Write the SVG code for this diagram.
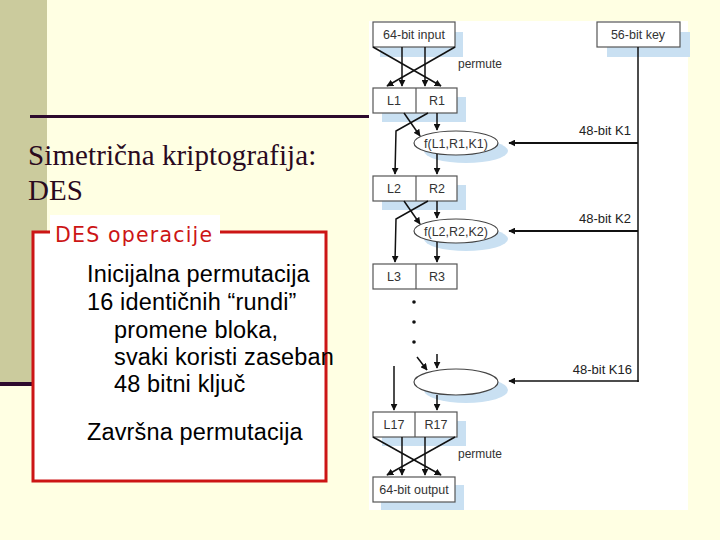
<svg xmlns="http://www.w3.org/2000/svg" width="720" height="540" viewBox="0 0 720 540">
<style>
.box{fill:#fff;stroke:#555;stroke-width:1.2}
.sh{fill:#c9e0f2}
.lbl{font-family:"Liberation Sans",Arial,sans-serif;font-size:12.5px;fill:#333;text-anchor:middle}
.klbl{font-family:"Liberation Sans",Arial,sans-serif;font-size:13px;fill:#222;text-anchor:end}
.ln{stroke:#111;stroke-width:1.5;fill:none}
.ar{stroke:#111;stroke-width:1.5;fill:none;marker-end:url(#ah)}
.arb{stroke:#111;stroke-width:2.2;fill:none;marker-end:url(#ah)}
.body{font-family:"Liberation Sans",Arial,sans-serif;font-size:23.5px;letter-spacing:0.15px;fill:#000}
</style>
<defs>
<marker id="ah" viewBox="0 0 10 10" refX="9" refY="5" markerWidth="7" markerHeight="7" markerUnits="userSpaceOnUse" orient="auto"><path d="M0,0 L10,5 L0,10 z" fill="#111"/></marker>
</defs>
<rect x="0" y="0" width="720" height="540" fill="#ffffe3"/>
<rect x="0" y="0" width="47" height="383" fill="#cbcb9d"/>
<rect x="0" y="382" width="40" height="4" fill="#2d0a2d"/>
<rect x="30" y="115" width="345" height="3" fill="#2d0a2d"/>
<g id="title" font-family="'Liberation Serif','Times New Roman',serif" font-size="29" fill="#2a0a1e">
<text x="28" y="165" letter-spacing="0.1">Simetrična kriptografija:</text>
<text x="28" y="200">DES</text>
</g>
<g id="des-box">
<rect x="33" y="232" width="293" height="249" fill="#fff" stroke="#cc1515" stroke-width="3"/>
<rect x="50" y="215" width="170" height="30" fill="#fff"/>
<text x="55" y="242" font-family="'DejaVu Sans',sans-serif" font-size="20.5" letter-spacing="1.2" fill="#cc1515">DES operacije</text>
<text class="body" x="87" y="282">Inicijalna permutacija</text>
<text class="body" x="87" y="310">16 identičnih “rundi”</text>
<text class="body" x="114" y="338">promene bloka,</text>
<text class="body" x="114" y="365">svaki koristi zaseban</text>
<text class="body" x="114" y="392">48 bitni ključ</text>
<text class="body" x="87" y="440">Završna permutacija</text>
</g>
<rect x="369" y="21" width="319" height="489" fill="#fff"/>
<g id="shadows">
<rect class="sh" x="380" y="32" width="83" height="25"/>
<rect class="sh" x="607" y="32" width="83" height="25"/>
<rect class="sh" x="382" y="97" width="84" height="25"/>
<rect class="sh" x="382" y="185" width="84" height="25"/>
<rect class="sh" x="382" y="421" width="84" height="25"/>
<rect class="sh" x="381" y="485" width="83" height="25"/>
<ellipse class="sh" cx="466" cy="151" rx="42" ry="12"/>
<ellipse class="sh" cx="466" cy="239" rx="42" ry="12"/>
<ellipse class="sh" cx="466" cy="390" rx="42" ry="13"/>
</g>
<g id="input">
<rect class="box" x="373" y="22" width="82" height="25"/>
<text class="lbl" x="414" y="39">64-bit input</text>
</g>
<g id="key">
<rect class="box" x="597" y="22" width="83" height="25"/>
<text class="lbl" x="638" y="39">56-bit key</text>
</g>
<g id="lr1">
<rect class="box" x="373" y="88" width="84" height="25"/>
<line x1="416" y1="88" x2="416" y2="113" stroke="#555" stroke-width="1.2"/>
<text class="lbl" x="394" y="105">L1</text>
<text class="lbl" x="437" y="105">R1</text>
</g>
<g id="f1">
<ellipse cx="456" cy="143" rx="42" ry="12" fill="#fff" stroke="#444" stroke-width="1.2"/>
<text class="lbl" x="456" y="148" font-size="13">f(L1,R1,K1)</text>
</g>
<g id="lr2">
<rect class="box" x="373" y="176" width="84" height="25"/>
<line x1="416" y1="176" x2="416" y2="201" stroke="#555" stroke-width="1.2"/>
<text class="lbl" x="394" y="193">L2</text>
<text class="lbl" x="437" y="193">R2</text>
</g>
<g id="f2">
<ellipse cx="456" cy="231" rx="42" ry="12" fill="#fff" stroke="#444" stroke-width="1.2"/>
<text class="lbl" x="456" y="236" font-size="13">f(L2,R2,K2)</text>
</g>
<g id="lr3">
<rect class="box" x="373" y="264" width="84" height="25"/>
<line x1="416" y1="264" x2="416" y2="289" stroke="#555" stroke-width="1.2"/>
<text class="lbl" x="394" y="281">L3</text>
<text class="lbl" x="437" y="281">R3</text>
</g>
<g id="dots" fill="#111">
<circle cx="414" cy="302" r="1.8"/>
<circle cx="414" cy="322" r="1.8"/>
<circle cx="414" cy="342" r="1.8"/>
</g>
<g id="f16">
<ellipse cx="456" cy="382" rx="42" ry="13" fill="#fff" stroke="#444" stroke-width="1.2"/>
</g>
<g id="lr17">
<rect class="box" x="373" y="412" width="84" height="25"/>
<line x1="415" y1="412" x2="415" y2="437" stroke="#555" stroke-width="1.2"/>
<text class="lbl" x="394" y="429">L17</text>
<text class="lbl" x="436" y="429">R17</text>
</g>
<g id="output">
<rect class="box" x="373" y="477" width="82" height="25"/>
<text class="lbl" x="414" y="494">64-bit output</text>
</g>
<g id="labels">
<text x="458" y="68" font-family="'Liberation Sans',Arial,sans-serif" font-size="12" fill="#333">permute</text>
<text x="458" y="458" font-family="'Liberation Sans',Arial,sans-serif" font-size="12" fill="#333">permute</text>
<text class="klbl" x="631" y="135">48-bit K1</text>
<text class="klbl" x="631" y="223">48-bit K2</text>
<text class="klbl" x="632" y="374">48-bit K16</text>
</g>
<g id="connectors">
<line class="ar" x1="373" y1="47" x2="441" y2="86"/>
<line class="ar" x1="455" y1="47" x2="387" y2="86"/>
<line class="ar" x1="402" y1="47" x2="402" y2="86"/>
<line class="ar" x1="425" y1="47" x2="425" y2="86"/>
<line class="ar" x1="404" y1="113" x2="420" y2="136"/>
<polyline class="ar" points="428,113 396,131 395,174"/>
<line class="ar" x1="437" y1="113" x2="437" y2="130"/>
<line class="ar" x1="437" y1="154" x2="437" y2="174"/>
<line class="arb" x1="638" y1="143" x2="509" y2="143"/>
<line class="ar" x1="404" y1="201" x2="420" y2="224"/>
<polyline class="ar" points="428,201 396,219 395,262"/>
<line class="ar" x1="437" y1="201" x2="437" y2="218"/>
<line class="ar" x1="437" y1="242" x2="437" y2="262"/>
<line class="arb" x1="638" y1="231" x2="509" y2="231"/>
<line class="ln" x1="638" y1="47" x2="638" y2="382"/>
<line class="ar" x1="638.7" y1="381" x2="509" y2="381"/>
<line class="ar" x1="417" y1="357" x2="427" y2="370"/>
<line class="ar" x1="437" y1="354" x2="437" y2="368"/>
<line class="ar" x1="394" y1="366" x2="394" y2="410"/>
<line class="ar" x1="437" y1="395" x2="437" y2="410"/>
<line class="ar" x1="373" y1="437" x2="441" y2="475"/>
<line class="ar" x1="455" y1="437" x2="387" y2="475"/>
<line class="ar" x1="402" y1="437" x2="402" y2="475"/>
<line class="ar" x1="425" y1="437" x2="425" y2="475"/>
</g>
</svg>
